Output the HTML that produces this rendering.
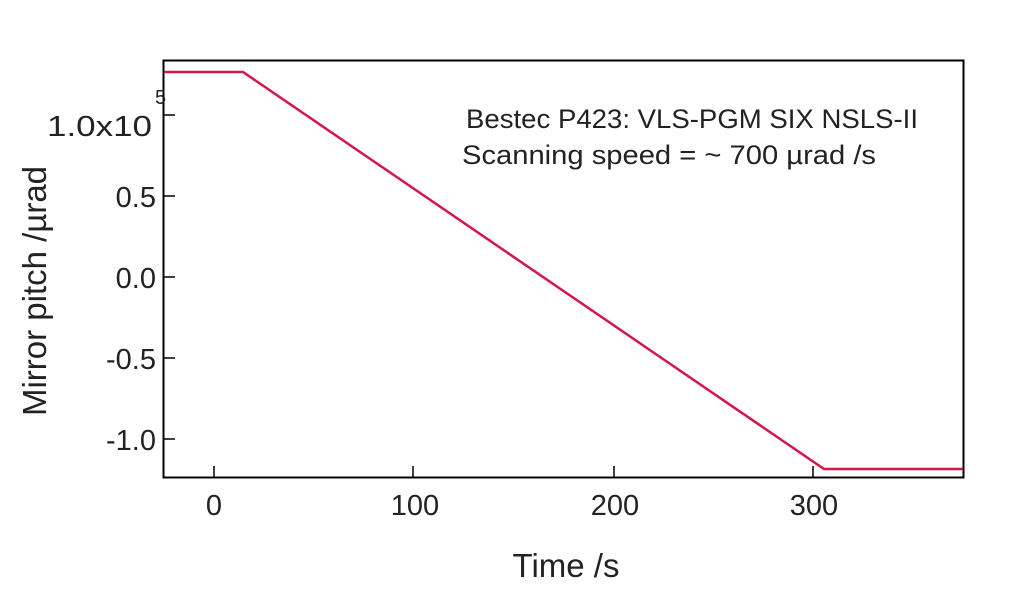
<!DOCTYPE html>
<html><head><style>body{margin:0;background:#fff}svg{display:block}</style></head><body>
<svg width="1024" height="589" xmlns="http://www.w3.org/2000/svg" font-family="Liberation Sans, sans-serif" fill="#222">
<rect x="163.5" y="60.5" width="800" height="417" fill="none" stroke="#000" stroke-width="2"/>
<g stroke="#000" stroke-width="1.5">
<line x1="214" y1="477" x2="214" y2="466"/><line x1="413" y1="477" x2="413" y2="466"/>
<line x1="614" y1="477" x2="614" y2="466"/><line x1="813" y1="477" x2="813" y2="466"/>
<line x1="163" y1="115" x2="175" y2="115"/><line x1="163" y1="196" x2="175" y2="196"/>
<line x1="163" y1="277" x2="175" y2="277"/><line x1="163" y1="358" x2="175" y2="358"/>
<line x1="163" y1="439" x2="175" y2="439"/>
</g>
<g font-size="29" text-anchor="middle">
<text x="214" y="515">0</text><text x="415" y="515">100</text><text x="615" y="515">200</text><text x="814" y="515">300</text>
</g>
<text x="47" y="136" font-size="29" textLength="105" lengthAdjust="spacingAndGlyphs">1.0x10</text>
<g font-size="29" text-anchor="end">
<text x="156" y="207">0.5</text><text x="156" y="288">0.0</text>
<text x="156" y="369">-0.5</text><text x="156" y="450">-1.0</text>
</g>
<text x="155" y="104" font-size="20">5</text>
<text x="566" y="577" font-size="33" text-anchor="middle">Time /s</text>
<text transform="translate(46,291) rotate(-90)" font-size="33" text-anchor="middle">Mirror pitch /µrad</text>
<text x="466" y="128" font-size="27" textLength="452" lengthAdjust="spacingAndGlyphs">Bestec P423: VLS-PGM SIX NSLS-II</text>
<text x="462" y="164" font-size="27" textLength="414" lengthAdjust="spacingAndGlyphs">Scanning speed = ~ 700 µrad /s</text>
<polyline points="164,72 243,72 824,469 963,469" fill="none" stroke="#d3174b" stroke-width="2.5"/>
</svg>
</body></html>
